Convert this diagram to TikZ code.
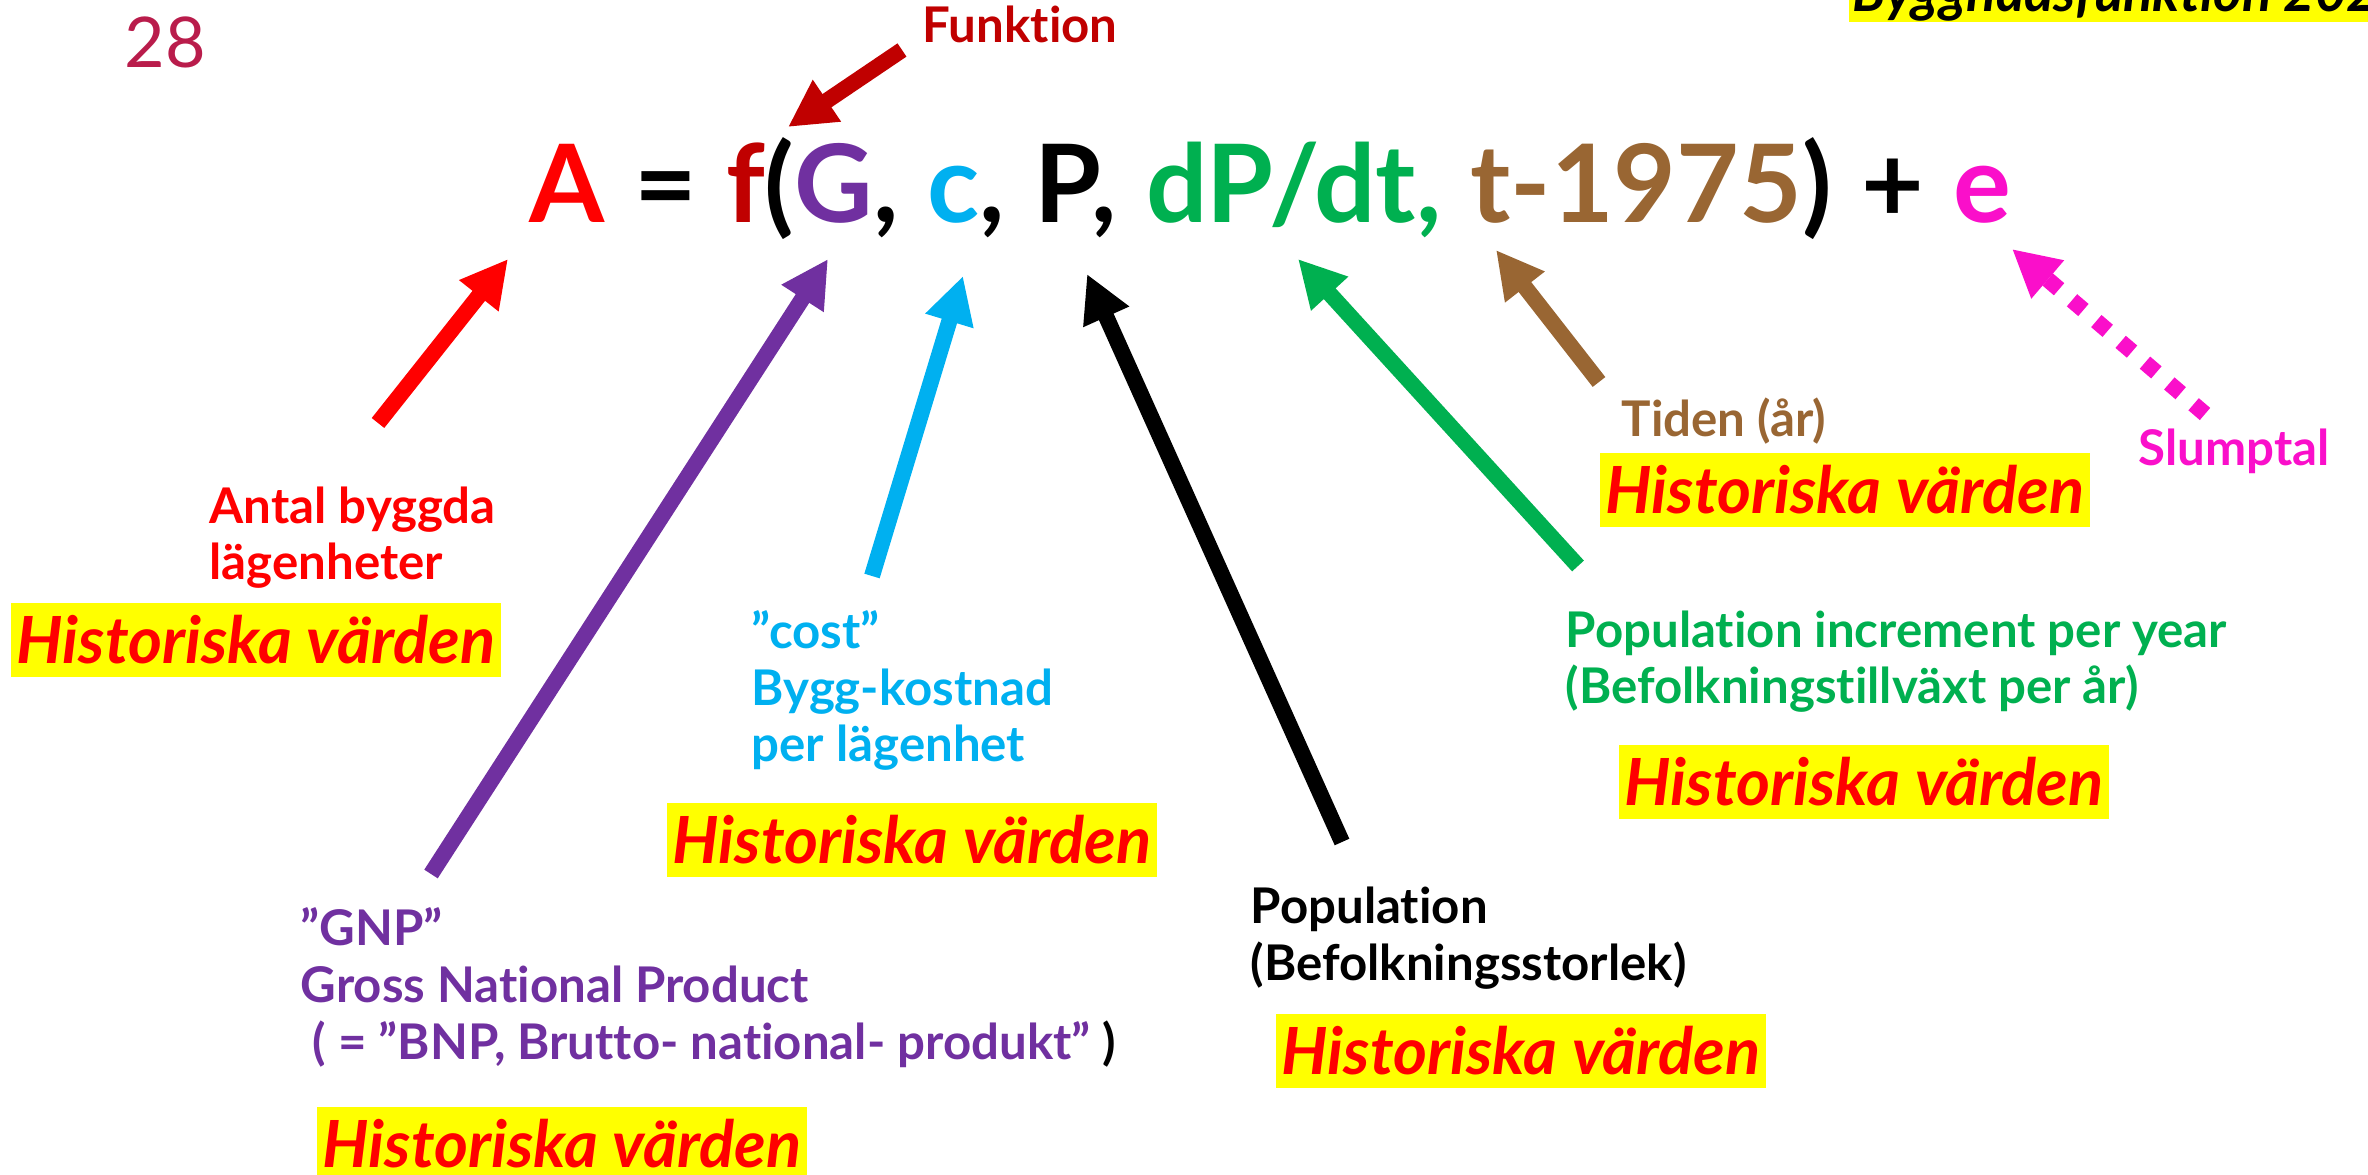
\documentclass[tikz,border=0pt]{standalone}
\usepackage{fontspec}
\setmainfont{Lato}[Ligatures={NoCommon}]
\usepackage{xcolor}
\usetikzlibrary{arrows.meta}
\definecolor{fred}{HTML}{FF0000}
\definecolor{fdred}{HTML}{C00000}
\definecolor{fpurple}{HTML}{7030A0}
\definecolor{fcyan}{HTML}{00B0F0}
\definecolor{fgreen}{HTML}{00B050}
\definecolor{fbrown}{HTML}{996633}
\definecolor{fmag}{HTML}{FA0FCA}
\definecolor{fnum}{HTML}{B91C4B}
\definecolor{fyellow}{HTML}{FFFF00}
\tikzset{
  >={Triangle[length=4.7mm,width=4.7mm]},
  farrow/.style={->, line width=1.6mm},
  flbl/.style={font=\fontsize{14}{16.2}\selectfont\bfseries, align=left,
               inner sep=0pt, anchor=base west},
  fhist/.style={fill=fyellow, text=fred, inner sep=0pt,
                font=\fontsize{18.5}{20}\selectfont\bfseries\itshape,
                minimum width=49mm, minimum height=7.4mm},
  feq/.style={font=\fontsize{30.8}{32}\selectfont\bfseries,
              inner sep=0pt, anchor=base west},
}

\begin{document}
\begin{tikzpicture}[x=0.1mm,y=-0.1mm]
  \useasboundingbox (0,0) rectangle (2368,1175);

  % ---- rubrik ----
  \node[fill=fyellow, inner xsep=0.4mm, inner ysep=0pt, anchor=base west,
        font=\fontsize{15.5}{18}\selectfont\bfseries\itshape] (titel)
    at (1848,12) {Byggnadsfunktion 2020};
  \node[text=fnum, inner sep=0pt, anchor=base west,
        font=\fontsize{19.9}{22}\selectfont] (nr) at (124,68) {28};

  % ---- ekvation ----
  \node[feq] (ekv) at (529,223) {\spaceskip=0.27em\relax
    \textcolor{fred}{A} = \textcolor{fdred}{f}(%
    \textcolor{fpurple}{G}, \textcolor{fcyan}{c}, P, \textcolor{fgreen}{dP/dt,}
    \textcolor{fbrown}{t-1975}) + \textcolor{fmag}{e}};

  % ---- etiketter (base = sista raden) ----
  \node[flbl, text=fdred] (funk) at (922,43) {Funktion};
  \node[flbl, text=fred] (antal) at (209,580) {Antal byggda\\lägenheter};
  \node[flbl, text=fcyan] (cost) at (751,762) {”cost”\\Bygg-kostnad\\per lägenhet};
  \node[flbl, text=fpurple] (gnp) at (300,1059)
    {”GNP”\\Gross National Product\\\hspace*{1.2mm}( = ”BNP, Brutto- national- produkt” \textcolor{black}{)}};
  \node[flbl, text=black] (pop) at (1250,980) {Population\\(Befolkningsstorlek)};
  \node[flbl, text=fgreen] (okn) at (1565,704)
    {Population increment per year\\(Befolkningstillväxt per år)};
  \node[flbl, text=fbrown] (tid) at (1621,437) {Tiden (år)};
  \node[flbl, text=fmag] (slump) at (2138,466) {Slumptal};

  % ---- historiska värden ----
  \node[fhist] (hA) at (256,640) {Historiska värden};
  \node[fhist] (hc) at (912,840) {Historiska värden};
  \node[fhist] (hG) at (562,1144) {Historiska värden};
  \node[fhist] (hP) at (1521,1051) {Historiska värden};
  \node[fhist] (ht) at (1845,490) {Historiska värden};
  \node[fhist] (hdP) at (1864,782) {Historiska värden};

  % ---- pilar ----
  \coordinate (funkS) at (902,50);   \coordinate (funkE) at (788,127);
  \coordinate (aS) at (378,423);     \coordinate (aE) at (508,259);
  \coordinate (gS) at (431,874);     \coordinate (gE) at (828,259);
  \coordinate (cS) at (872,576);     \coordinate (cE) at (963,276);
  \coordinate (pS) at (1342,842);    \coordinate (pE) at (1087,274);
  \coordinate (dpS) at (1578,566);   \coordinate (dpE) at (1298,259);
  \coordinate (tS) at (1599,382);    \coordinate (tE) at (1496,250);
  \coordinate (eS) at (2205,414);    \coordinate (eE) at (2012,249);

  \draw[farrow, fdred] (funkS) -- (funkE);
  \draw[farrow, fred] (aS) -- (aE);
  \draw[farrow, fpurple] (gS) -- (gE);
  \draw[farrow, fcyan] (cS) -- (cE);
  \draw[farrow, black] (pS) -- (pE);
  \draw[farrow, fgreen] (dpS) -- (dpE);
  \draw[farrow, fbrown] (tS) -- (tE);
  \draw[farrow, fmag, dash pattern=on 1.5mm off 1.7mm] (eS) -- (eE);

\end{tikzpicture}
\end{document}
